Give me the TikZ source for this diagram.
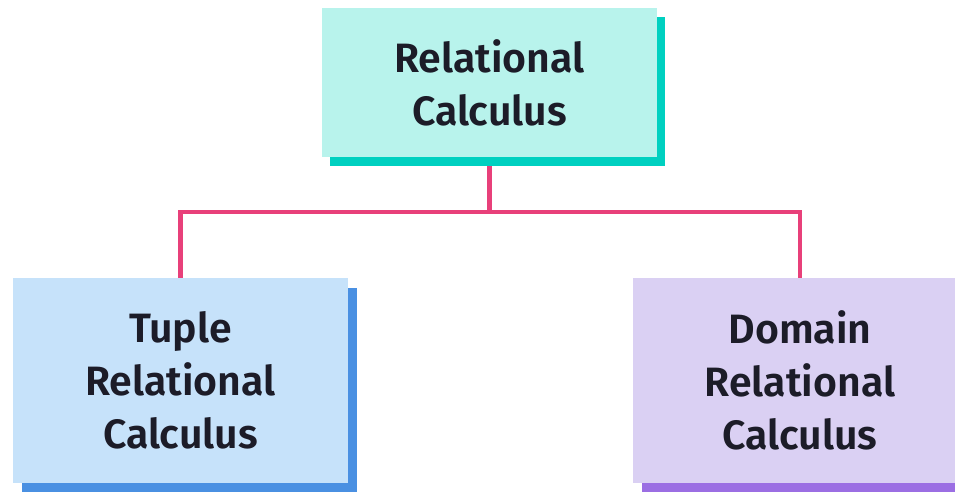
\documentclass[tikz,border=0pt]{standalone}
\usepackage{fontspec}
\setmainfont{Fira Sans}[BoldFont={Fira Sans SemiBold}]
\usetikzlibrary{shadows,backgrounds,calc}
\definecolor{topfill}{HTML}{B8F3EC}
\definecolor{topshadow}{HTML}{00D0C0}
\definecolor{leftfill}{HTML}{C6E2FA}
\definecolor{leftshadow}{HTML}{4A90E2}
\definecolor{rightfill}{HTML}{DAD0F3}
\definecolor{rightshadow}{HTML}{9B6EE3}
\definecolor{conncol}{HTML}{E8407A}
\definecolor{txt}{HTML}{1C1C28}
\tikzset{
  box/.style={minimum width=335pt, align=center, inner sep=0pt, text=txt,
    font=\fontsize{41}{53}\selectfont\bfseries},
  conn/.style={draw=conncol, line width=4.5pt},
}
\begin{document}
\begin{tikzpicture}[x=1pt,y=1pt]
\useasboundingbox (0,0) rectangle (955,492);
\node[box, minimum height=149pt, fill=topfill,
  drop shadow={shadow xshift=8pt, shadow yshift=-9pt, fill=topshadow, opacity=1}]
  (top) at (489.5,409.5) {Relational\\Calculus};
\node[box, minimum height=205pt, fill=leftfill,
  drop shadow={shadow xshift=9pt, shadow yshift=-10pt, fill=leftshadow, opacity=1}]
  (left) at (180.5,111.5) {Tuple\\Relational\\Calculus};
\node[box, minimum height=205pt, fill=rightfill,
  drop shadow={shadow xshift=9pt, shadow yshift=-10pt, fill=rightshadow, opacity=1}]
  (right) at (800,111.5) {Domain\\Relational\\Calculus};
\begin{scope}[on background layer]
  \draw[conn] (top.south) -- (top.south |- 0,280) coordinate (j);
  \draw[conn] (left.north) |- (j) -| (right.north);
\end{scope}
\end{tikzpicture}
\end{document}
